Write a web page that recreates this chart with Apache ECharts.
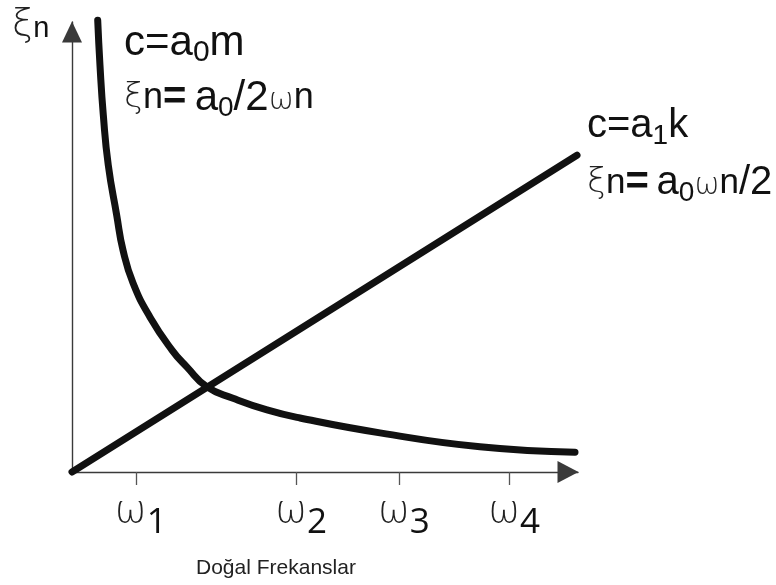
<!DOCTYPE html>
<html>
<head>
<meta charset="utf-8">
<style>
  html, body { margin: 0; padding: 0; background: #ffffff; }
  #chart { width: 776px; height: 585px; }
</style>
<script src="https://cdn.jsdelivr.net/npm/echarts@6/dist/echarts.min.js"></script>
</head>
<body>
<div id="chart"></div>
<script>
// Damping ratio vs. natural frequency (Rayleigh damping components)

// mass-proportional part: xi_n = a0 / (2 * omega_n)
const massOmega = [0.508, 0.553, 0.619, 0.717, 0.883, 1.008, 1.206, 1.542, 1.976, 2.273, 2.668, 3.182, 3.854, 4.506, 6.087, 8.063, 9.941];
const massXi    = [100.4, 90.4, 79.3, 68.2, 57.1, 49.3, 42.0, 34.4, 27.1, 23.3, 18.9, 16.4, 13.8, 12.0, 8.7, 5.6, 4.4];

// stiffness-proportional part: xi_n = a0 * omega_n / 2
const stiffOmega = [0, 9.98];
const stiffXi    = [0, 70.4];

// natural frequencies marked on the axis
const omegaTicks  = [1.26, 4.43, 6.46, 8.64];
const omegaLabels = ['1', '2', '3', '4'];

const xAxisTitle = 'Doğal Frekanslar';

const pairs = (xs, ys) => xs.map((x, i) => [x, ys[i]]);

const greek = "'DejaVu Sans', 'Noto Sans', sans-serif";
const latin = "'Liberation Sans', Arial, sans-serif";

const chart = echarts.init(document.getElementById('chart'), null, { renderer: 'canvas' });

chart.setOption({
  backgroundColor: '#ffffff',
  animation: false,
  grid: { left: 72, right: 198, top: 22, bottom: 113, outerBoundsMode: 'none' },
  xAxis: {
    type: 'value', min: 0, max: 10,
    splitLine: { show: false },
    axisLine: {
      show: true, onZero: false,
      symbol: ['none', 'triangle'], symbolSize: [22, 21], symbolOffset: [0, -10],
      lineStyle: { color: '#3a3a3a', width: 1.4 }
    },
    axisTick: {
      show: true, customValues: omegaTicks, length: 13,
      lineStyle: { color: '#555', width: 1.3 }
    },
    axisLabel: {
      show: true, customValues: omegaTicks, margin: 12,
      padding: [0, 0, 0, 10],
      formatter: (v) => '{w|ω}{d|' + omegaLabels[omegaTicks.indexOf(v)] + '}',
      rich: {
        w: { fontFamily: greek, fontWeight: 200, fontSize: 38, color: '#222' },
        d: { fontFamily: "'Open Sans', sans-serif", fontSize: 35, color: '#111', padding: [22, 0, 0, 0] }
      }
    }
  },
  yAxis: {
    type: 'value', min: 0, max: 100,
    splitLine: { show: false },
    axisLine: {
      show: true, onZero: false,
      symbol: ['none', 'triangle'], symbolSize: [20, 21], symbolOffset: [0, -10],
      lineStyle: { color: '#3a3a3a', width: 1.4 }
    },
    axisTick: { show: false },
    axisLabel: { show: false }
  },
  series: [
    {
      type: 'line', name: 'mass', data: pairs(massOmega, massXi),
      smooth: 0.5, showSymbol: false, clip: false,
      lineStyle: { color: '#111', width: 7, cap: 'round', join: 'round' }
    },
    {
      type: 'line', name: 'stiffness', data: pairs(stiffOmega, stiffXi),
      showSymbol: false, clip: false,
      lineStyle: { color: '#111', width: 7, cap: 'round' }
    }
  ],
  graphic: [
    // vertical axis name
    {
      type: 'text', left: 12, top: 6,
      style: {
        text: '{x|ξ}{n|n}',
        rich: {
          x: { fontFamily: greek, fontWeight: 200, fontSize: 38, fill: '#222' },
          n: { fontFamily: latin, fontSize: 29, fill: '#111', padding: [8, 0, 0, 0] }
        }
      }
    },
    // mass-proportional label
    {
      type: 'text', left: 124, top: 22,
      style: {
        text: '{a|c=a}{s|0}{a|m}',
        rich: {
          a: { fontFamily: latin, fontSize: 42, fill: '#111' },
          s: { fontFamily: latin, fontSize: 30, fill: '#111', padding: [20, 0, 0, 0] }
        }
      }
    },
    {
      type: 'text', left: 124, top: 77,
      style: {
        text: '{x|ξ}{n|n}{e|=}{sp| }{a|a}{s|0}{a|/2}{w|ω}{n|n}',
        rich: {
          x: { fontFamily: greek, fontWeight: 200, fontSize: 34, fill: '#222' },
          w: { fontFamily: greek, fontWeight: 200, fontSize: 30, fill: '#222', padding: [6, 0, 0, 0] },
          n: { fontFamily: latin, fontSize: 36, fill: '#111' },
          e: { fontFamily: latin, fontWeight: 'bold', fontSize: 40, fill: '#111' },
          sp: { fontFamily: latin, fontSize: 30, fill: '#111' },
          a: { fontFamily: latin, fontSize: 42, fill: '#111' },
          s: { fontFamily: latin, fontSize: 28, fill: '#111', padding: [20, 0, 0, 0] }
        }
      }
    },
    // stiffness-proportional label
    {
      type: 'text', left: 587, top: 106,
      style: {
        text: '{a|c=a}{s|1}{a|k}',
        rich: {
          a: { fontFamily: latin, fontSize: 40, fill: '#111' },
          s: { fontFamily: latin, fontSize: 28, fill: '#111', padding: [20, 0, 0, 0] }
        }
      }
    },
    {
      type: 'text', left: 587, top: 163,
      style: {
        text: '{x|ξ}{n|n}{e|=}{sp| }{a|a}{s|0}{w|ω}{n|n}{a|/2}',
        rich: {
          x: { fontFamily: greek, fontWeight: 200, fontSize: 34, fill: '#222' },
          w: { fontFamily: greek, fontWeight: 200, fontSize: 30, fill: '#222', padding: [6, 0, 0, 0] },
          n: { fontFamily: latin, fontSize: 35, fill: '#111' },
          e: { fontFamily: latin, fontWeight: 'bold', fontSize: 40, fill: '#111' },
          sp: { fontFamily: latin, fontSize: 28, fill: '#111' },
          a: { fontFamily: latin, fontSize: 40, fill: '#111' },
          s: { fontFamily: latin, fontSize: 28, fill: '#111', padding: [20, 0, 0, 0] }
        }
      }
    },
    // horizontal axis title
    {
      type: 'text', left: 196, top: 558,
      style: { text: xAxisTitle, fontFamily: latin, fontSize: 21, fill: '#222' }
    }
  ]
});
</script>
</body>
</html>
